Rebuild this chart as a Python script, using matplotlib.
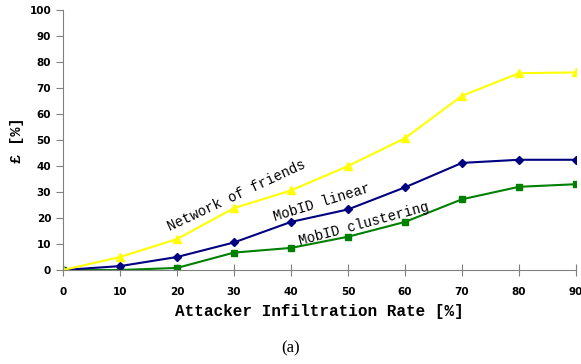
import numpy as np
import matplotlib
matplotlib.use("Agg")
import matplotlib.pyplot as plt

rate = [0, 10, 20, 30, 40, 50, 60, 70, 80, 90]
friends = [0, 5, 11.9, 23.8, 30.6, 40, 50.7, 67, 75.7, 76]
mob_linear = [0, 1.5, 5, 10.6, 18.5, 23.3, 31.8, 41.2, 42.4, 42.4]
mob_cluster = [0, 0, 0.8, 6.7, 8.5, 12.8, 18.5, 27.2, 32, 33]

fig = plt.figure(figsize=(5.81, 3.64), dpi=100)
ax = fig.add_axes([0.1084, 0.2582, 0.883, 0.7143])

ax.plot(rate, mob_cluster, color='#008000', marker='s', markersize=5, lw=1.5)
ax.plot(rate, mob_linear, color='#000080', marker='D', markersize=4, lw=1.5)
ax.plot(rate, friends, color='#FFFF00', marker='^', markersize=6, lw=1.5)

ax.set_xlim(0, 90)
ax.set_ylim(0, 100)
ax.set_xticks(range(0, 91, 10))
ax.set_yticks(range(0, 101, 10))
ax.spines['top'].set_visible(False)
ax.spines['right'].set_visible(False)
for s in ['left', 'bottom']:
    ax.spines[s].set_color('#808080')
ax.tick_params(axis='y', direction='out', length=5, color='#808080', labelsize=7.5)
ax.tick_params(axis='x', direction='inout', length=8, color='#808080', labelsize=7.5, pad=8)
for lab in ax.get_xticklabels() + ax.get_yticklabels():
    lab.set_fontweight('bold')
    lab.set_family('DejaVu Sans')

mono = 'Liberation Mono'
ax.set_xlabel('Attacker Infiltration Rate [%]', family=mono, fontsize=11.5, fontweight='bold', labelpad=5)
ax.set_ylabel('£ [%]', family=mono, fontsize=11, fontweight='bold', labelpad=4)

ax.text(30.4, 28.8, 'Network of friends', family=mono, fontsize=10, rotation=25,
        ha='center', va='center')
ax.text(45.4, 25.8, 'MobID linear', family=mono, fontsize=10, rotation=17,
        ha='center', va='center')
ax.text(52.8, 17.7, 'MobID clustering', family=mono, fontsize=10, rotation=15,
        ha='center', va='center')

fig.text(0.5, 0.044, '(a)', family='Liberation Serif', fontsize=12, ha='center', va='center')

fig.savefig('out.png', dpi=100)
